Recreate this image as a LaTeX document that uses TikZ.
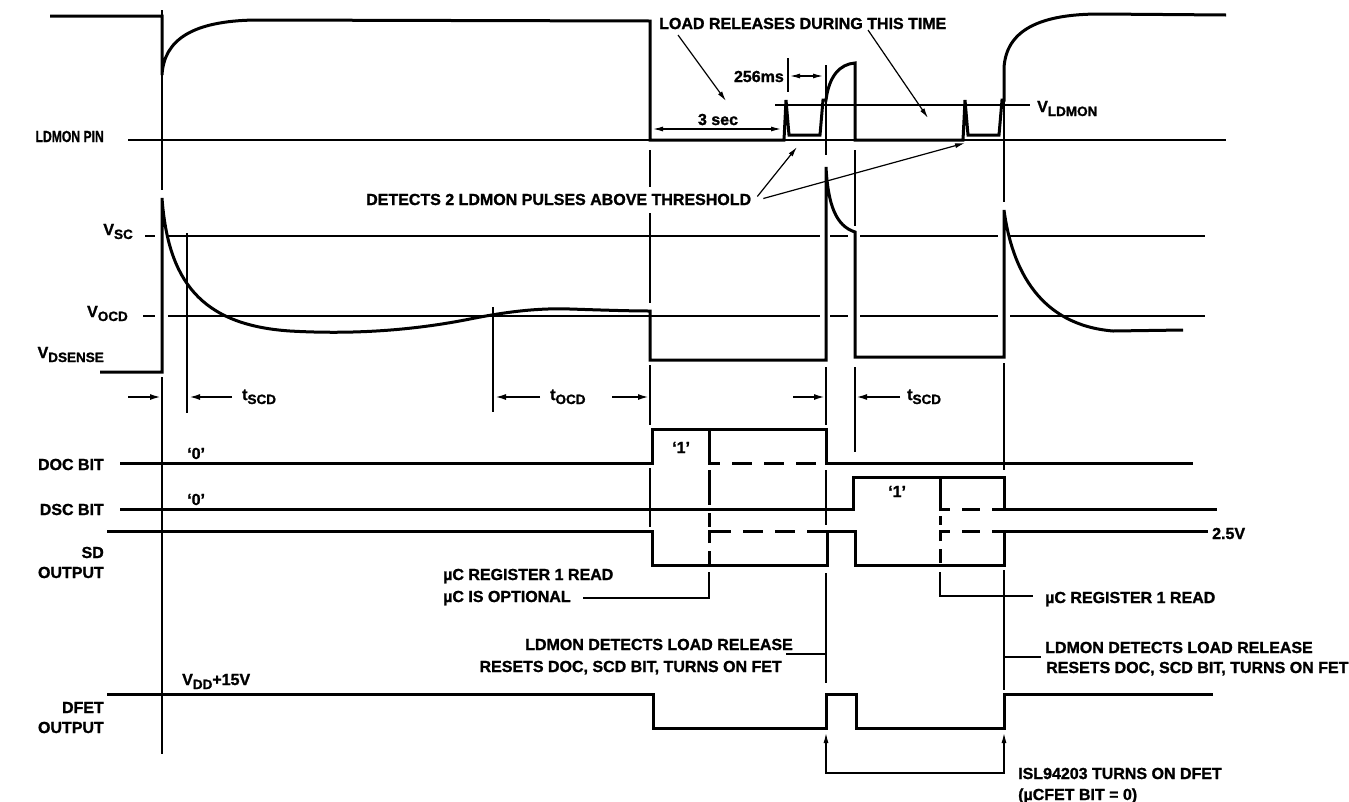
\documentclass[tikz,border=0pt]{standalone}
\usepackage{fontspec}
\setmainfont{Liberation Sans}[BoldFeatures={FakeBold=1.3}]
\usetikzlibrary{arrows.meta, positioning}
\newcommand{\lo}[1]{\raisebox{-4pt}{\fontsize{13.5}{13.5}\selectfont #1}}

\begin{document}
\begin{tikzpicture}[x=1pt, y=-1pt, >={Latex[length=11pt,width=6pt]},
	sig/.style={line width=3pt},
	guide/.style={line width=1.9pt},
	leader/.style={line width=1.2pt, >={Latex[length=10pt,width=5pt]}},
	lbl/.style={font=\bfseries\fontsize{16}{18}\selectfont, inner sep=0pt}]
	
	\useasboundingbox (0,0) rectangle (1349,801);
	
	% --- Lignes de repere verticales ---
	\foreach \x/\ya/\yb in {162/10/190, 162/377/754, 187/233/413, 493/307/412,
		650/150/187, 650/213/303, 650/365/425, 650/468/527,
		826/65/155, 826/367/425, 826/470/525, 826/573/683,
		855/150/226, 855/367/452,
		1004/68/202, 1004/363/470, 1004/570/690} {
		\draw[guide] (\x,\ya) -- (\x,\yb);
	}
	
	% --- Seuils V_SC et V_OCD ---
	\foreach \y/\xa in {236/145, 316/143} {
		\foreach \a/\b in {\xa/155, 168/820, 830/848, 860/998, 1010/1205} {
			\draw[guide] (\a,\y) -- (\b,\y);
		}
	}
	\draw[guide] (128,140) -- (1226,140);
	\draw[guide] (775,105) -- (1030,105);
	
	% --- Signaux ---
	\draw[sig] (50,16) -- (162,16) -- (162,75) .. controls (164,40) and (192,21) .. (255,20)
		-- (650,21) -- (650,140) -- (784,140) -- (786,100) -- (789,135) -- (820,135) -- (823,100)
		-- (826,100) .. controls (829,76) and (840,64) .. (855,63) -- (855,140) -- (963,140)
		-- (965,100) -- (968,135) -- (999,135) -- (1002,100) -- (1004,100) -- (1004,68)
		.. controls (1006,30) and (1040,14) .. (1100,14) -- (1226,15);
	\draw[sig] (100,372) -- (162,372) -- (162,198) .. controls (168,280) and (200,325) .. (290,331)
		.. controls (360,335) and (420,329) .. (470,319) .. controls (510,311) and (540,308) .. (570,309)
		.. controls (600,310) and (630,311) .. (650,311) -- (650,360) -- (826,360) -- (826,167)
		.. controls (828,205) and (836,226) .. (855,232) -- (855,357) -- (1004,357) -- (1004,210)
		.. controls (1012,270) and (1040,325) .. (1113,331) -- (1183,330);
	\draw[sig] (120,463) -- (652,463) -- (652,429) -- (826,429) -- (826,463) -- (1193,463);
	\draw[sig] (120,509) -- (853,509) -- (853,477) -- (1004,477) -- (1004,509) -- (1217,509);
	\draw[sig] (107,531) -- (652,531) -- (652,565) -- (827,565) -- (827,531) -- (855,531)
		-- (855,565) -- (1004,565) -- (1004,531) -- (1208,531);
	\draw[sig] (107,694) -- (653,694) -- (653,728) -- (826,728) -- (826,694) -- (856,694)
		-- (856,728) -- (1004,728) -- (1004,694) -- (1213,694);
	
	% --- Lecture optionnelle (pointilles) ---
	\draw[sig, dash pattern=on 45pt off 12pt on 20pt off 12pt on 20pt off 12pt on 20pt off 12pt] (709,429) |- (826,463);
	\draw[sig, dash pattern=on 35pt off 8pt] (709,470) -- (709,527);
	\draw[sig, dash pattern=on 14pt off 8pt on 34pt off 12pt on 20pt off 12pt on 20pt off 12pt on 20pt off 12pt] (709,565) |- (826,531);
	\draw[sig, dash pattern=on 42pt off 12pt on 18pt off 12pt on 20pt off 12pt] (940,477) |- (1004,509);
	\draw[sig] (940,516) -- (940,525);
	\draw[sig, dash pattern=on 14pt off 8pt on 20pt off 12pt on 18pt off 12pt on 20pt off 12pt] (940,563) |- (1004,531);
	
	% --- Etiquettes de gauche ---
	\node[lbl, anchor=base east] (ldmon) at (104,142) {\scalebox{0.76}[1]{LDMON PIN}};
	\node[lbl, anchor=base east] (vsc) at (133,235) {V\lo{SC}};
	\node[lbl, anchor=base east] (vocd) at (128,317) {V\lo{OCD}};
	\node[lbl, anchor=base east] (vdsense) at (104,358) {V\lo{DSENSE}};
	\node[lbl, anchor=base east] (docbit) at (104,470) {DOC BIT};
	\node[lbl, anchor=base east] (dscbit) at (104,515) {DSC BIT};
	\node[lbl, anchor=base east] (sdA) at (104,558) {SD};
	\node[lbl, anchor=base east] (sdB) at (104,578) {OUTPUT};
	\node[lbl, anchor=base east] (dfetA) at (104,713) {DFET};
	\node[lbl, anchor=base east] (dfetB) at (104,733) {OUTPUT};
	
	% --- Niveaux ---
	\node[lbl, anchor=base west] (docZero) at (187,459) {‘0’};
	\node[lbl, anchor=base west] (dscZero) at (187,505) {‘0’};
	\node[lbl, anchor=base west] (docOne) at (672,453) {‘1’};
	\node[lbl, anchor=base west] (dscOne) at (888,497) {‘1’};
	\node[lbl, anchor=base west] (vdd) at (182,685) {V\lo{DD}+15V};
	\node[lbl, anchor=base west] (sdLevel) at (1212,539) {2.5V};
	\node[lbl, anchor=base west] (vldmon) at (1037,112) {V\lo{LDMON}};
	
	% --- Temps t_SCD / t_OCD ---
	\node[lbl, anchor=base west] (tscdA) at (242,400) {t\lo{SCD}};
	\node[lbl, anchor=base west] (tocd) at (550,400) {t\lo{OCD}};
	\node[lbl, anchor=base west] (tscdB) at (907,400) {t\lo{SCD}};
	\coordinate (scdA) at (161,397);
	\coordinate (scdB) at (189,397);
	\coordinate (ocdA) at (495,397);
	\coordinate (ocdB) at (649,397);
	\coordinate (scdC) at (825,397);
	\coordinate (scdD) at (856,397);
	\draw[guide, ->] (128,397) -- (scdA);
	\draw[guide, ->] ([xshift=-10pt]tscdA.west |- scdB) -- (scdB);
	\draw[guide, ->] ([xshift=-10pt]tocd.west |- ocdA) -- (ocdA);
	\draw[guide, ->] (612,397) -- (ocdB);
	\draw[guide, ->] (793,397) -- (scdC);
	\draw[guide, ->] ([xshift=-7pt]tscdB.west |- scdD) -- (scdD);
	
	% --- Annotations du haut ---
	\node[lbl, anchor=base west] (release) at (659,29) {LOAD RELEASES DURING THIS TIME};
	\node[lbl, anchor=base east] (ms) at (784,82) {256ms};
	\node[lbl, anchor=base] (sec) at (718,125) {3 sec};
	\node[lbl, anchor=base west] (detect) at (366,205) {DETECTS 2 LDMON PULSES ABOVE THRESHOLD};
	\coordinate (loadA) at (726,101);
	\coordinate (loadB) at (928,118);
	\coordinate (pulseA) at (797,147);
	\coordinate (pulseB) at (965,143);
	\draw[leader, ->] (678,35) -- (loadA);
	\draw[leader, ->] (868,30) -- (loadB);
	\draw[leader] (788,58) -- (788,92);
	\draw[leader, <->] (790,76) -- (823,76);
	\draw[leader, <->] (653,129) -- (781,129);
	\draw[leader, ->] ([xshift=6pt,yshift=3pt]detect.east) -- (pulseA);
	\draw[leader, ->] ([xshift=12pt,yshift=1pt]detect.east) -- (pulseB);
	
	% --- Lecture du registre ---
	\node[lbl, anchor=base west] (regA) at (443,580) {µC REGISTER 1 READ};
	\node[lbl, anchor=base west] (regB) at (443,602) {µC IS OPTIONAL};
	\node[lbl, anchor=base west] (regC) at (1045,603) {µC REGISTER 1 READ};
	\draw[leader] (709,572) |- ([xshift=12pt]regB.east);
	\draw[leader] (940,572) |- ([xshift=-12pt,yshift=3pt]regC.west);
	
	% --- Relachement de la charge ---
	\node[lbl, anchor=base east] (relA) at (793,650) {LDMON DETECTS LOAD RELEASE};
	\node[lbl, anchor=base east] (relB) at (782,672) {RESETS DOC, SCD BIT, TURNS ON FET};
	\node[lbl, anchor=base west] (relC) at (1045,653) {LDMON DETECTS LOAD RELEASE};
	\node[lbl, anchor=base west] (relD) at (1046,673) {RESETS DOC, SCD BIT, TURNS ON FET};
	\coordinate (relL) at (826,654);
	\coordinate (relR) at (1004,657);
	\draw[leader] (786,654) -- (relL);
	\draw[leader] (relR) -- (1041,657);
	
	% --- Rallumage du DFET ---
	\node[lbl, anchor=base west] (isl) at (1018,779) {ISL94203 TURNS ON DFET};
	\node[lbl, anchor=base west] (isl2) at (1018,800) {(µCFET BIT = 0)};
	\coordinate (onA) at (826,733);
	\coordinate (onB) at (1004,733);
	\draw[leader, <->] (onA) -- ++(0,40) -| (onB);
	
\end{tikzpicture}
\end{document}
